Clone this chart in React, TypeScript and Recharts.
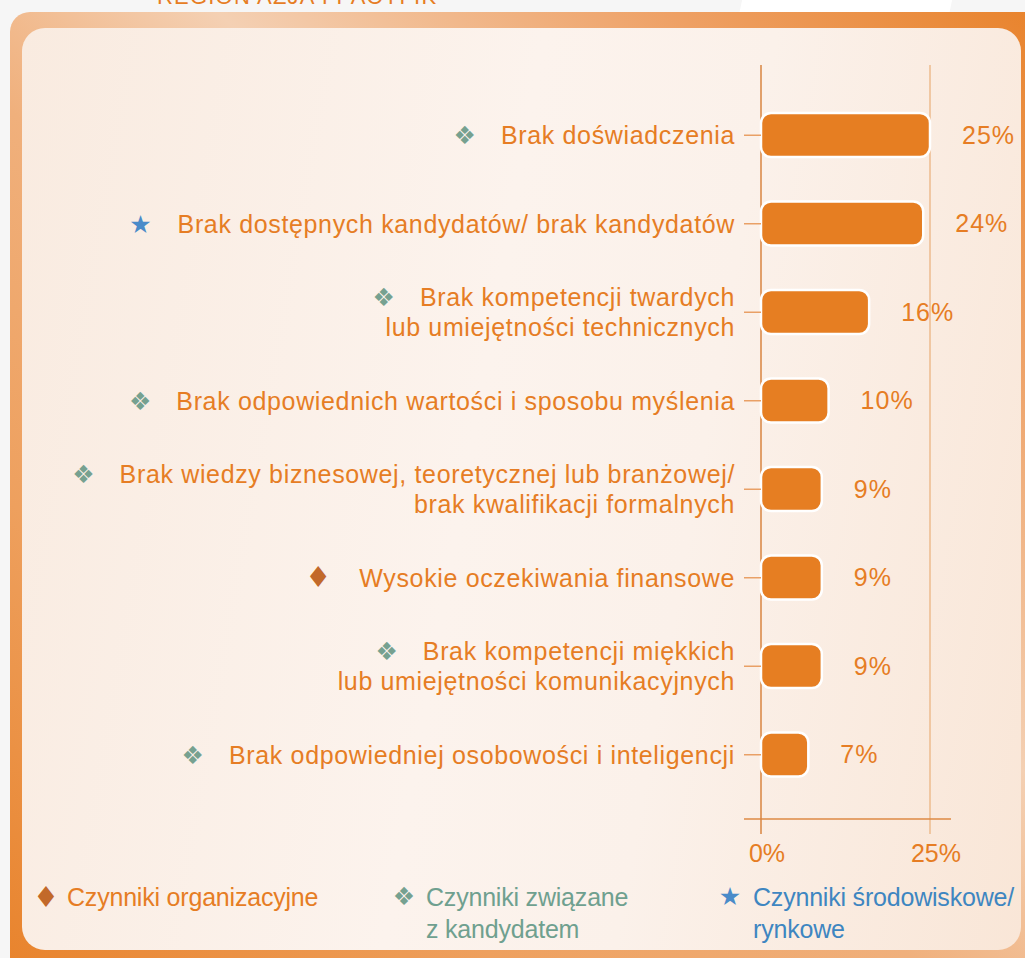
import React from "react";
import * as R from "recharts";
import { BarChart, Bar, XAxis, YAxis, LabelList } from "recharts";

// braki kandydatów – region Azja i Pacyfik
const categories = [
  "Brak doświadczenia",
  "Brak dostępnych kandydatów/ brak kandydatów",
  "Brak kompetencji twardych\nlub umiejętności technicznych",
  "Brak odpowiednich wartości i sposobu myślenia",
  "Brak wiedzy biznesowej, teoretycznej lub branżowej/\nbrak kwalifikacji formalnych",
  "Wysokie oczekiwania finansowe",
  "Brak kompetencji miękkich\nlub umiejętności komunikacyjnych",
  "Brak odpowiedniej osobowości i inteligencji",
];
const shares = [25, 24, 16, 10, 9, 9, 9, 7];
const factorTypes = ["cand", "market", "cand", "cand", "cand", "org", "cand", "cand"];
const xTicks = [0, 25];

const legendLabels = {
  org: ["Czynniki organizacyjne"],
  cand: ["Czynniki związane", "z kandydatem"],
  market: ["Czynniki środowiskowe/", "rynkowe"],
};

const ORANGE = "#E67D24";
const BAR = "#E67E22";
const FONT = "'Liberation Sans', Arial, sans-serif";

const ICONS: Record<string, { glyph: string; color: string; size: number; gap: number }> = {
  cand: { glyph: "❖", color: "#76A190", size: 25, gap: 25 },
  market: { glyph: "★", color: "#4A8BC9", size: 25, gap: 26 },
  org: { glyph: "♦", color: "#C2692A", size: 29, gap: 28 },
};
const LEGEND_TEXT: Record<string, string> = {
  org: ORANGE,
  cand: "#6FA08F",
  market: "#3E86C1",
};

const data = categories.map((name, i) => ({ name, value: shares[i] }));

const YTick = (props: any) => {
  const { x, y, payload } = props;
  const idx = categories.indexOf(payload.value);
  const lines = String(payload.value).split("\n");
  const icon = ICONS[factorTypes[idx]];
  const lh = 30;
  const top = y - ((lines.length - 1) * lh) / 2;
  return (
    <g>
      {lines.map((ln, i) => (
        <text
          key={i}
          x={x}
          y={top + i * lh + 9}
          textAnchor="end"
          fill={ORANGE}
          fontSize={25}
          letterSpacing={0.65}
          fontFamily={FONT}
        >
          {i === 0 && (
            <tspan fill={icon.color} fontSize={icon.size} fontFamily="'DejaVu Sans'" letterSpacing={0}>
              {icon.glyph}
            </tspan>
          )}
          <tspan dx={i === 0 ? icon.gap : 0}>{ln}</tspan>
        </text>
      ))}
    </g>
  );
};

const XTick = (props: any) => {
  const { x, y, payload } = props;
  return (
    <text x={x + 6} y={y + 18} textAnchor="middle" fill={ORANGE} fontSize={25} fontFamily={FONT}>
      {payload.value}%
    </text>
  );
};

// osie rysowane ręcznie – wystają poza obszar wykresu
const AxisFrame = () => {
  const hook = (R as any).usePlotArea;
  const pa = hook ? hook() : null;
  const area = pa ?? { x: 761, y: 65, width: 169, height: 754 };
  const bottom = area.y + area.height;
  const right = area.x + area.width;
  return (
    <g>
      <line x1={right} x2={right} y1={area.y} y2={bottom + 15} stroke="#EDBB8E" strokeWidth={1.5} />
      <line x1={area.x - 17} x2={right + 21} y1={bottom} y2={bottom} stroke="#DE8A45" strokeWidth={1.5} />
      <line x1={area.x} x2={area.x} y1={area.y} y2={bottom + 15} stroke="#D98540" strokeWidth={1.5} />
    </g>
  );
};

export default function App() {
  return (
    <div
      style={{
        position: "absolute",
        left: 0,
        top: 0,
        width: 1025,
        height: 958,
        overflow: "hidden",
        background: "#f6f6f6",
        fontFamily: FONT,
      }}
    >
      <div
        style={{
          position: "absolute",
          left: 740,
          top: -20,
          width: 210,
          height: 60,
          background: "#ffffff",
          transform: "skewX(-12deg)",
        }}
      />
      <div
        style={{
          position: "absolute",
          left: 157,
          top: -14,
          fontSize: 22,
          lineHeight: "22px",
          letterSpacing: 1.2,
          color: ORANGE,
          whiteSpace: "nowrap",
        }}
      >
        REGION AZJA I PACYFIK
      </div>
      <div
        style={{
          position: "absolute",
          left: 10,
          top: 12,
          width: 1040,
          height: 980,
          borderRadius: 20,
          background:
            "linear-gradient(to top right, #e8822a 0%, #eea05e 25%, #f0b07c 45%, #f4d0b3 60%, #eea064 82%, #e8822a 100%)",
        }}
      />
      <div
        style={{
          position: "absolute",
          left: 22,
          top: 28,
          width: 999,
          height: 922,
          borderRadius: 23,
          background: "linear-gradient(100deg, #f9ebe0 0%, #fcf3ed 45%, #fbf1ea 65%, #f9e6d7 100%)",
        }}
      />

      <div style={{ position: "absolute", left: 0, top: 0 }}>
        <BarChart
          width={1025}
          height={958}
          layout="vertical"
          data={data}
          margin={{ top: 65, right: 95, bottom: 109, left: 361 }}
        >
          <AxisFrame />
          <XAxis
            type="number"
            domain={[0, 25]}
            ticks={xTicks}
            axisLine={false}
            tickLine={false}
            tickSize={15}
            tickMargin={10}
            height={30}
            tick={<XTick />}
          />
          <YAxis
            type="category"
            dataKey="name"
            width={400}
            padding={{ top: 26, bottom: 20 }}
            axisLine={false}
            tickLine={{ stroke: "#E9A066", strokeWidth: 1.5 }}
            tickSize={17}
            tickMargin={9}
            interval={0}
            tick={<YTick />}
          />
          <Bar
            dataKey="value"
            fill={BAR}
            stroke="#ffffff"
            strokeWidth={2.5}
            radius={10}
            barSize={44}
            isAnimationActive={false}
          >
            <LabelList
              dataKey="value"
              position="right"
              offset={32}
              formatter={(v: any) => `${v}%`}
              fill={ORANGE}
              fontSize={25}
              fontFamily={FONT}
              letterSpacing={1}
            />
          </Bar>
        </BarChart>
      </div>

      {(
        [
          ["org", 46, 67],
          ["cand", 404, 426],
          ["market", 730, 753],
        ] as [string, number, number][]
      ).map(([k, iconX, textX]) => (
        <React.Fragment key={k}>
          <div
            style={{
              position: "absolute",
              left: iconX - 20,
              width: 40,
              top: 881,
              textAlign: "center",
              fontFamily: "'DejaVu Sans'",
              fontSize: ICONS[k].size,
              lineHeight: "32px",
              color: ICONS[k].color,
            }}
          >
            {ICONS[k].glyph}
          </div>
          <div
            style={{
              position: "absolute",
              left: textX,
              top: 881,
              fontSize: 25,
              lineHeight: "32px",
              color: LEGEND_TEXT[k],
              whiteSpace: "nowrap",
              letterSpacing: -0.2,
            }}
          >
            {(legendLabels as any)[k].map((t: string) => (
              <div key={t}>{t}</div>
            ))}
          </div>
        </React.Fragment>
      ))}
    </div>
  );
}
